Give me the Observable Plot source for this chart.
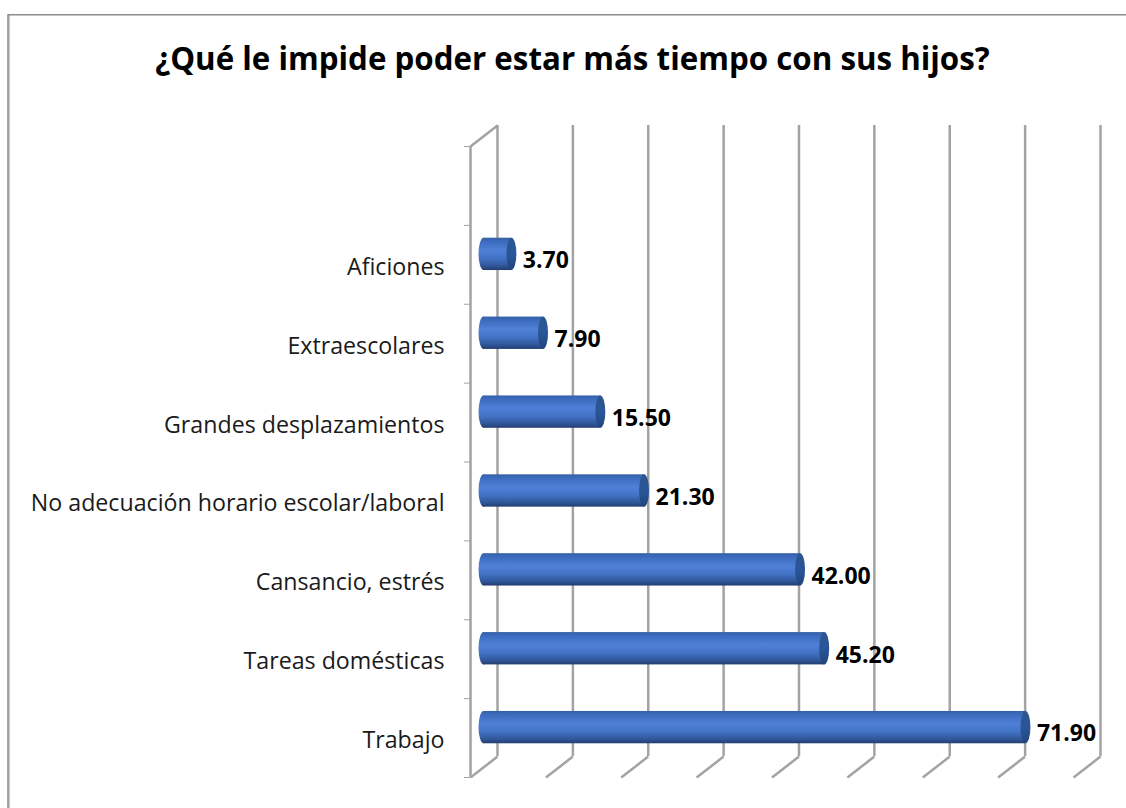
<!DOCTYPE html>
<html>
<head>
<meta charset="utf-8">
<script src="https://cdn.jsdelivr.net/npm/d3@7"></script>
<script src="https://cdn.jsdelivr.net/npm/@observablehq/plot@0.6"></script>
<style>
html,body{margin:0;padding:0;background:#fff;overflow:hidden}
svg{display:block}
</style>
</head>
<body>
<div id="chart"></div>
<script>
const chartTitle = "¿Qué le impide poder estar más tiempo con sus hijos?";
// bottom to top
const categories = ["Trabajo","Tareas domésticas","Cansancio, estrés","No adecuación horario escolar/laboral","Grandes desplazamientos","Extraescolares","Aficiones"];
const values = [71.9,45.2,42.0,21.3,15.5,7.9,3.7];
const xTicks = [0,10,20,30,40,50,60,70,80];
const yEdges = [0,1,2,3,4,5,6,7,8];

// pseudo-3D wall depth, expressed in data units
const depthX = 3.58, depthY = 0.265;
const halfBar = 0.205, capX = 0.66;
// page border position, in data units
const borderX = -64.9, borderY = 9.67;

const rows = categories.map((name,i)=>({name,value:values[i],i}));
const wall = "#a3a3a3";
const mid = r => r.i + 0.5 + depthY/2;

const defs = () => {
  const ns = "http://www.w3.org/2000/svg";
  const d = document.createElementNS(ns,"defs");
  const grad = (id,stops) => {
    const g = document.createElementNS(ns,"linearGradient");
    g.setAttribute("id",id);
    g.setAttribute("x1","0");g.setAttribute("x2","0");g.setAttribute("y1","0");g.setAttribute("y2","1");
    stops.forEach(([o,c])=>{const s=document.createElementNS(ns,"stop");s.setAttribute("offset",o);s.setAttribute("stop-color",c);g.appendChild(s);});
    d.appendChild(g);
  };
  grad("body",[[0,"#3560a8"],[0.12,"#3d6cbe"],[0.4,"#4f80d8"],[0.65,"#4272c4"],[0.88,"#2f5596"],[1,"#233c6e"]]);
  grad("cap",[[0,"#2c568f"],[0.5,"#2a5699"],[1,"#20457f"]]);
  return d;
};

const plot = Plot.plot({
  width:1126, height:808,
  marginLeft:470, marginRight:26, marginTop:146, marginBottom:31,
  style:{background:"#fff",color:"#000",fontFamily:"'Open Sans',sans-serif"},
  x:{domain:[0,80],range:[497,1100],axis:null},
  y:{domain:[0,8],range:[777,146],axis:null},
  marks:[
    defs,
    // outer border
    Plot.ruleX([borderX],{y1:-2,y2:borderY,stroke:"#a0a0a0",strokeWidth:2.5}),
    Plot.ruleY([borderY],{x1:borderX,x2:90,stroke:"#8c8c8c",strokeWidth:1.5}),
    Plot.text([chartTitle],{frameAnchor:"top",dx:-213,dy:-99,textAnchor:"middle",fontSize:31.3,fontWeight:700,fill:"#000"}),
    // back-wall gridlines
    Plot.ruleX(xTicks,{y1:depthY,y2:8+depthY,stroke:wall,strokeWidth:2.5}),
    // floor lines
    Plot.link(xTicks,{x1:d=>d-depthX,y1:0,x2:d=>d,y2:depthY,stroke:wall,strokeWidth:2.5}),
    // front vertical axis and its ticks
    Plot.ruleX([-depthX],{y1:0,y2:8,stroke:wall,strokeWidth:2.5}),
    Plot.link([0],{x1:-depthX,y1:8,x2:0,y2:8+depthY,stroke:wall,strokeWidth:2.5}),
    Plot.ruleY(yEdges,{x1:-depthX-0.8,x2:-depthX,stroke:wall,strokeWidth:1}),
    // category labels
    Plot.axisY({ticks:categories.map((c,i)=>i+0.5),tickFormat:v=>categories[v-0.5],tickSize:0,tickPadding:26,anchor:"left",fontSize:23.2,dy:2.5,fill:"#1a1a1a",label:null}),
    // cylinders
    Plot.rect(rows,{x1:-depthX/2-capX,x2:-depthX/2+capX,y1:d=>mid(d)-halfBar,y2:d=>mid(d)+halfBar,rx:5,ry:16,fill:"url(#body)"}),
    Plot.rect(rows,{x1:-depthX/2,x2:d=>d.value-depthX/2,y1:d=>mid(d)-halfBar,y2:d=>mid(d)+halfBar,fill:"url(#body)"}),
    Plot.rect(rows,{x1:d=>d.value-depthX/2-capX,x2:d=>d.value-depthX/2+capX,y1:d=>mid(d)-halfBar,y2:d=>mid(d)+halfBar,rx:5,ry:16,fill:"url(#cap)"}),
    // value labels
    Plot.text(rows,{x:d=>d.value-depthX/2+capX,y:mid,text:d=>d.value.toFixed(2),textAnchor:"start",dx:6,dy:6.5,fontSize:23,fontWeight:700,fill:"#000"})
  ]
});
document.getElementById("chart").appendChild(plot);
</script>
</body>
</html>
